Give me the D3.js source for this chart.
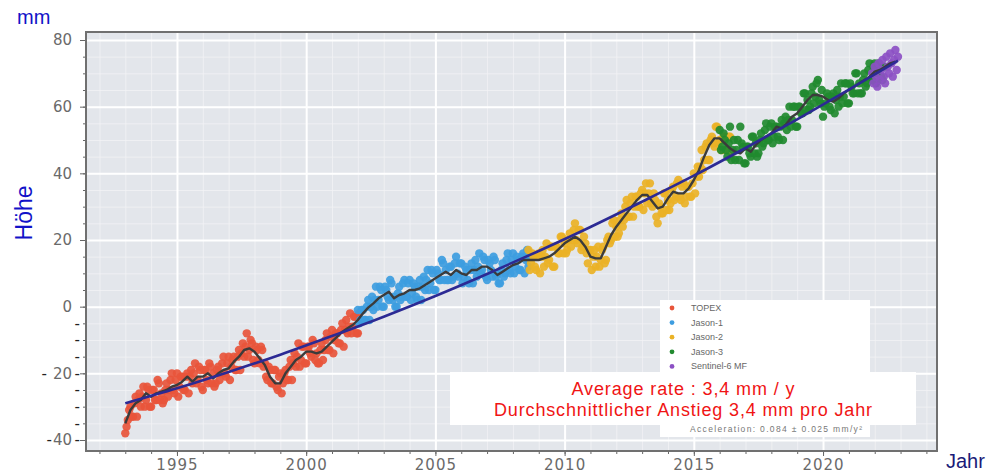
<!DOCTYPE html>
<html>
<head>
<meta charset="utf-8" />
<title>Meeresspiegel</title>
<style>
  body { margin: 0; background: #fff; }
  svg { display: block; font-family: "Liberation Sans", Arial, sans-serif; }
</style>
</head>
<body>
<div id="container"></div>
<script src="https://cdn.jsdelivr.net/npm/d3@7/dist/d3.min.js"></script>
<script>
  // axis ticks
  const yearTicks = [1995, 2000, 2005, 2010, 2015, 2020]
  const heightTicks = [-40, -20, 0, 20, 40, 60, 80]

  // missions (legend order)
  const missions = ['TOPEX', 'Jason-1', 'Jason-2', 'Jason-3', 'Sentinel-6 MF']
  const missionColors = ['#e8553b', '#3d9de0', '#eab226', '#218a2f', '#8c50c4']

  // cycles read every 0.1 year (A) and half way between (B)
  const cycleStep = 0.1
  const missionStarts = [1993.0, 2002.0, 2008.6, 2016.0, 2021.9]
  const topexA = [-38, -34, -30, -33, -27, -28, -30, -24, -28, -25,
    -30, -25, -28, -23, -26, -28, -23, -25, -20, -26,
    -20, -24, -21, -25, -20, -21, -23, -17, -22, -19,
    -25, -19, -23, -18, -20, -23, -18, -20, -15, -21,
    -15, -18, -15, -19, -13, -14, -15, -8, -13, -11,
    -17, -13, -17, -13, -17, -22, -19, -23, -19, -25,
    -20, -23, -19, -22, -16, -17, -18, -11, -16, -12,
    -17, -12, -15, -11, -14, -17, -11, -13, -8, -13,
    -7, -10, -8, -11, -5, -7, -8, -2, -6, -3, -8]
  const topexB = [-36, -31, -33, -29, -33, -26, -27, -30, -24, -30,
    -25, -28, -22, -28, -29, -25, -27, -22, -25, -22,
    -27, -21, -25, -21, -26, -19, -20, -23, -18, -24,
    -19, -22, -17, -23, -24, -19, -22, -17, -20, -17,
    -22, -16, -19, -15, -19, -11, -12, -15, -10, -16,
    -12, -16, -12, -18, -21, -18, -23, -19, -24, -21,
    -26, -20, -22, -18, -22, -14, -15, -18, -12, -17,
    -12, -14, -10, -16, -17, -13, -16, -10, -13, -9,
    -14, -8, -11, -7, -12, -4, -6, -8, -3, -8, -2]
  const jason1A = [-1, -4, -1, -4, 2, 0, -1, 6, 2, 5,
    0, 5, 2, 7, 3, 0, 6, 3, 8, 3,
    8, 4, 6, 2, 8, 6, 5, 11, 7, 10,
    5, 10, 8, 13, 11, 8, 12, 9, 15, 9,
    13, 9, 11, 7, 13, 11, 9, 16, 11, 14,
    8, 13, 9, 14, 10, 7, 13, 10, 16, 10,
    16, 12, 14, 11, 16, 14, 12]
  const jason1B = [-5, -1, -4, 0, -4, 3, 2, 0, 6, 0,
    6, 3, 8, 2, 0, 4, 2, 7, 3, 7,
    2, 7, 3, 6, 2, 9, 8, 5, 11, 5,
    11, 8, 14, 8, 8, 12, 8, 13, 10, 13,
    7, 12, 8, 11, 7, 14, 12, 10, 15, 9,
    14, 11, 15, 9, 7, 11, 9, 14, 11, 14,
    10, 15, 11, 15, 10, 17, 15]
  const jason2A = [17, 13, 15, 11, 16, 15, 12, 19, 14, 18,
    12, 18, 16, 21, 19, 17, 22, 20, 25, 19,
    23, 18, 19, 13, 17, 15, 12, 18, 14, 18,
    14, 21, 20, 26, 24, 22, 28, 26, 32, 27,
    33, 30, 33, 30, 35, 34, 31, 37, 30, 32,
    25, 30, 28, 34, 32, 31, 36, 33, 38, 32,
    37, 33, 36, 33, 40, 39, 39, 47, 44, 49,
    44, 51, 48, 54, 50, 47, 51, 47, 51]
  const jason2B = [11, 16, 12, 15, 10, 17, 15, 13, 18, 12,
    18, 16, 21, 16, 16, 20, 18, 23, 20, 23,
    17, 21, 16, 17, 11, 17, 15, 12, 17, 13,
    20, 19, 25, 21, 21, 26, 24, 30, 27, 31,
    27, 33, 30, 34, 29, 37, 34, 31, 34, 27,
    31, 28, 34, 29, 29, 35, 32, 37, 33, 36,
    31, 36, 33, 37, 34, 42, 42, 41, 48, 44,
    50, 49, 54, 49, 47, 51, 47, 51, 46]
  const jason3A = [53, 48, 50, 45, 54, 47, 44, 50, 54, 48,
    43, 48, 45, 51, 49, 46, 52, 49, 55, 50,
    55, 51, 54, 50, 56, 55, 53, 60, 56, 60,
    54, 60, 58, 64, 62, 60, 66, 63, 68, 61,
    57, 61, 63, 59, 64, 62, 60, 67, 63, 67,
    61, 66, 64, 70, 67, 64, 70, 67, 73, 68,
    73, 70, 72, 68]
  const jason3B = [47, 52, 47, 49, 44, 50, 47, 44, 49, 43,
    48, 46, 51, 46, 45, 50, 48, 53, 50, 54,
    49, 54, 51, 54, 50, 57, 56, 54, 60, 54,
    60, 58, 64, 59, 59, 64, 61, 67, 62, 65,
    60, 64, 60, 63, 58, 65, 63, 61, 67, 61,
    67, 64, 70, 64, 64, 68, 66, 71, 68, 72,
    67, 73, 69, 72]
  const sentinelA = [70, 72, 66, 68, 74, 67, 72, 76, 69, 77, 75]
  const sentinelB = [67, 69, 73, 71, 69, 75, 70, 73, 74, 71]

  // smoothed curve, one value every 0.2 year from 1993.0
  const smoothStart = 1993.0
  const smoothStep = 0.2
  const smoothValues = [-35, -31, -29, -28, -26,
    -27, -26, -25.5, -25, -24,
    -23.5, -22.5, -21, -22.5, -21,
    -21, -20, -21.5, -20, -19,
    -18.5, -16.5, -15, -13, -12.5,
    -13.5, -15.5, -17.5, -21, -23,
    -23, -20, -18, -16, -15,
    -13.5, -13.5, -14, -13.5, -12,
    -10.5, -9, -7.5, -6.5, -5.5,
    -4, -2, -0.3, 1, 2.5,
    3.5, 4.5, 2.5, 3.5, 4,
    5, 5, 5.5, 6.5, 7.5,
    8.5, 9.5, 10.5, 9.5, 11,
    10, 9.5, 11, 11, 12,
    12, 11, 9.5, 10.5, 11.5,
    12.5, 13, 14, 14, 14,
    14, 14.5, 15, 16, 17.5,
    19, 20, 21, 20, 18,
    15, 14.5, 14.5, 18, 21.5,
    24, 26, 28, 30, 32,
    33.5, 33.5, 31.5, 29.5, 30,
    32.5, 34.5, 34, 34, 35.5,
    38, 41, 45, 48.5, 50.5,
    50.5, 49, 47.5, 46.5, 46,
    47.5, 46.5, 48.5, 50, 51,
    52, 54, 53.5, 55, 57,
    58, 60, 62, 63.5, 63.5,
    63, 62, 61.5, 62.5, 64,
    65, 66, 67, 68, 69,
    70.5, 71, 72, 73, 73.5]

  // fitted trend (quadratic)
  const trendYears = [1993, 1995, 1997, 1999, 2001, 2003, 2005, 2007, 2009, 2011, 2013, 2015, 2017, 2019, 2021, 2022.9]
  const trendValues = [-29, -24.5, -19.6, -14.4, -8.8, -3.0, 3.2, 9.8, 16.7, 23.9, 31.5, 39.3, 47.6, 56.2, 65.1, 73.8]

  const rateLines = ['Average rate : 3,4 mm / y', 'Durchschnittlicher Anstieg 3,4 mm pro Jahr']
  const accelerationText = 'Acceleration: 0.084 ± 0.025 mm/y²'

  const W = 990, H = 473
  const margin = { top: 32, right: 53, bottom: 22, left: 86 }
  const width = W - margin.left - margin.right
  const height = H - margin.top - margin.bottom

  const svg = d3.select('#container').append('svg').attr('width', W).attr('height', H)
  const chart = svg.append('g').attr('transform', `translate(${margin.left}, ${margin.top})`)

  const x = d3.scaleLinear().domain([1991.48, 2024.41]).range([0, width])
  const y = d3.scaleLinear().domain([-43.3, 82.4]).range([height, 0])

  chart.append('rect').attr('width', width).attr('height', height).attr('fill', '#e3e6eb')

  // grid
  const minorYears = d3.range(1992, 2025)
  const minorHeights = d3.range(-40, 81, 5)
  const grid = (axis, color, w) => chart.append('g').call(axis)
    .call(g => g.select('.domain').remove())
    .call(g => g.selectAll('line').attr('stroke', color).attr('stroke-width', w))
  grid(d3.axisBottom(x).tickValues(minorYears).tickSize(height).tickFormat(''), '#f2f3f5', 0.8)
  grid(d3.axisLeft(y).tickValues(minorHeights).tickSize(-width).tickFormat(''), '#f2f3f5', 0.8)
  grid(d3.axisBottom(x).tickValues(yearTicks).tickSize(height).tickFormat(''), '#fff', 2)
  grid(d3.axisLeft(y).tickValues(heightTicks).tickSize(-width).tickFormat(''), '#fff', 2)

  // scatter
  const missionCycles = [[topexA, topexB], [jason1A, jason1B], [jason2A, jason2B], [jason3A, jason3B], [sentinelA, sentinelB]]
  missionCycles.forEach(([a, b], m) => {
    const pts = a.map((v, i) => ({ year: missionStarts[m] + i * cycleStep, value: v }))
      .concat(b.map((v, i) => ({ year: missionStarts[m] + (i + 0.5) * cycleStep, value: v })))
    chart.append('g').selectAll('circle').data(pts).join('circle')
      .attr('cx', d => x(d.year)).attr('cy', d => y(d.value)).attr('r', 4.2)
      .attr('fill', missionColors[m]).attr('opacity', 0.92)
  })

  // smoothed curve
  const smooth = smoothValues.map((v, i) => [smoothStart + i * smoothStep, v])
  chart.append('path')
    .attr('d', d3.line().x(d => x(d[0])).y(d => y(d[1]))(smooth))
    .attr('fill', 'none').attr('stroke', '#3b3b3b').attr('stroke-width', 2.4)
    .attr('stroke-linejoin', 'round')

  // trend
  const trend = trendYears.map((t, i) => [t, trendValues[i]])
  chart.append('path')
    .attr('d', d3.line().x(d => x(d[0])).y(d => y(d[1])).curve(d3.curveMonotoneX)(trend))
    .attr('fill', 'none').attr('stroke', '#2c2a94').attr('stroke-width', 2.6)

  // axes
  const tickColor = '#666'
  const axisX = chart.append('g').attr('transform', `translate(0, ${height})`)
    .call(d3.axisBottom(x).tickValues(yearTicks).tickSize(5).tickPadding(3).tickFormat(d3.format('d')))
  axisX.append('g').call(d3.axisBottom(x).tickValues(minorYears).tickSize(3).tickFormat(''))
    .call(g => g.select('.domain').remove())
  const axisY = chart.append('g')
    .call(d3.axisLeft(y).tickValues(heightTicks).tickSize(6).tickPadding(8).tickFormat(d => Math.abs(d)))
  axisY.append('g').call(d3.axisLeft(y).tickValues(minorHeights).tickSize(3).tickFormat(''))
    .call(g => g.select('.domain').remove())
  ;[axisX, axisY].forEach(a => {
    a.selectAll('.domain').remove()
    a.selectAll('line').attr('stroke', tickColor)
    a.selectAll('text').attr('fill', '#6a6a6a').attr('font-family', '"DejaVu Sans", sans-serif')
      .attr('font-size', 15)
  })
  axisX.selectAll('text').attr('letter-spacing', 1)
  axisY.selectAll('.tick text').each(function (d) {
    if (d < 0) {
      const t = d3.select(this)
      const num = t.text()
      t.text('')
      t.append('tspan').attr('fill', '#222').text('-')
      t.append('tspan').attr('dx', d === -20 ? 6 : 1).text(num)
    }
  })

  // frame
  chart.append('rect').attr('width', width).attr('height', height)
    .attr('fill', 'none').attr('stroke', '#707070').attr('stroke-width', 2)

  // legend
  const legend = chart.append('g').attr('transform', `translate(${660 - margin.left}, ${300 - margin.top})`)
  legend.append('rect').attr('width', 210).attr('height', 137).attr('fill', '#fff')
  missions.forEach((name, i) => {
    const row = legend.append('g').attr('transform', `translate(0, ${8 + i * 14.6})`)
    row.append('circle').attr('cx', 12).attr('cy', 0).attr('r', 2.4).attr('fill', missionColors[i])
    row.append('text').attr('x', 31).attr('y', 3).attr('font-size', 9).attr('fill', '#666').text(name)
  })
  legend.append('text').attr('x', 30).attr('y', 132).attr('font-size', 8.5).attr('fill', '#777')
    .attr('textLength', 172).text(accelerationText)

  // rate box
  const box = chart.append('g').attr('transform', `translate(${450 - margin.left}, ${372 - margin.top})`)
  box.append('rect').attr('width', 466).attr('height', 53).attr('fill', '#fff')
  box.append('text').attr('x', 233).attr('y', 22.5).attr('text-anchor', 'middle')
    .attr('font-size', 18).attr('fill', '#f01414').attr('textLength', 223).attr('lengthAdjust', 'spacing')
    .text(rateLines[0])
  box.append('text').attr('x', 233).attr('y', 43.5).attr('text-anchor', 'middle')
    .attr('font-size', 18).attr('fill', '#f01414').attr('textLength', 378).attr('lengthAdjust', 'spacing')
    .text(rateLines[1])

  // axis titles
  svg.append('text').attr('x', 17).attr('y', 24).attr('font-size', 20).attr('fill', '#1212c8').text('mm')
  svg.append('text').attr('transform', 'translate(32, 213) rotate(-90)').attr('text-anchor', 'middle')
    .attr('font-size', 23).attr('fill', '#1212c8').text('Höhe')
  svg.append('text').attr('x', 946).attr('y', 468).attr('font-size', 20).attr('fill', '#1a1a78').text('Jahr')
</script>
</body>
</html>
